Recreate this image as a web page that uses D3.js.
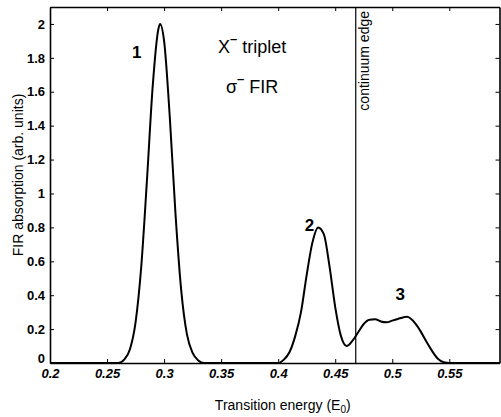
<!DOCTYPE html>
<html>
<head>
<meta charset="utf-8">
<script src="https://cdn.jsdelivr.net/npm/d3@7"></script>
<style>
  body { margin: 0; background: #fff; }
  svg { display: block; font-family: "Liberation Sans", Arial, sans-serif; }
</style>
</head>
<body>
<div id="chart"></div>
<script>
// values
const energy = [0.20, 0.26, 0.265, 0.27, 0.275, 0.28, 0.285, 0.29, 0.295, 0.2965,
    0.30, 0.305, 0.31, 0.315, 0.32, 0.325, 0.33, 0.335, 0.40, 0.405,
    0.41, 0.415, 0.42, 0.425, 0.43, 0.435, 0.44, 0.445, 0.45, 0.455,
    0.46, 0.465, 0.47, 0.475, 0.48, 0.485, 0.49, 0.495, 0.50, 0.505,
    0.51, 0.513, 0.52, 0.525, 0.53, 0.535, 0.54, 0.545, 0.55, 0.594];
const absorption = [0, 0, 0.02, 0.08, 0.24, 0.57, 1.08, 1.63, 1.97, 2.0,
    1.9, 1.45, 0.88, 0.43, 0.17, 0.06, 0.015, 0, 0, 0.02,
    0.065, 0.16, 0.30, 0.52, 0.71, 0.80, 0.76, 0.57, 0.33, 0.16,
    0.10, 0.13, 0.18, 0.23, 0.255, 0.258, 0.245, 0.24, 0.25, 0.26,
    0.27, 0.273, 0.235, 0.185, 0.125, 0.07, 0.025, 0.005, 0, 0];
const xTicks = [0.2, 0.25, 0.3, 0.35, 0.4, 0.45, 0.5, 0.55];
const yTicks = [0, 0.2, 0.4, 0.6, 0.8, 1, 1.2, 1.4, 1.6, 1.8, 2];
const continuumEdge = 0.468;
const peakNames = ['1', '2', '3'];
const peakPos = [[0.276, 1.80], [0.4275, 0.78], [0.507, 0.37]];

const [width, height] = [501, 417];
const plot = { left: 50, right: 499.5, top: 7, bottom: 363 };

const x = d3.scaleLinear().domain([0.2, 0.594]).range([plot.left, plot.right]);
const y = d3.scaleLinear().domain([0, 2.1]).range([plot.bottom, plot.top]);

const svg = d3.select('#chart')
    .append('svg')
    .attr('width', width)
    .attr('height', height);

// clip for the curve
svg.append('clipPath').attr('id', 'clip')
    .append('rect')
    .attr('x', plot.left).attr('y', plot.top)
    .attr('width', plot.right - plot.left).attr('height', plot.bottom - plot.top);

// axes with inward ticks on all four sides
const fmtX = (d) => String(+d.toFixed(2));
const fmtY = (d) => String(+d.toFixed(1));

const gx = svg.append('g')
    .attr('transform', `translate(0 ${plot.bottom})`)
    .call(d3.axisBottom(x).tickValues(xTicks).tickFormat(fmtX)
        .tickSizeInner(-4).tickSizeOuter(0).tickPadding(6));
gx.selectAll('text')
    .style('font-size', '13px')
    .style('font-weight', 'bold')
    .style('font-style', 'italic');

const gy = svg.append('g')
    .attr('transform', `translate(${plot.left} 0)`)
    .call(d3.axisLeft(y).tickValues(yTicks).tickFormat(fmtY)
        .tickSizeInner(-4).tickSizeOuter(0).tickPadding(5));
gy.selectAll('text')
    .style('font-size', '13px')
    .style('font-weight', 'bold');
// the zero label sits a little higher, clear of the x labels
gy.selectAll('.tick').filter((d) => d === 0).select('text').attr('dy', '-0.05em');

svg.append('g')
    .attr('transform', `translate(0 ${plot.top})`)
    .call(d3.axisTop(x).tickValues(xTicks).tickFormat('')
        .tickSizeInner(-4).tickSizeOuter(0));

svg.append('g')
    .attr('transform', `translate(${plot.right} 0)`)
    .call(d3.axisRight(y).tickValues(yTicks).tickFormat('')
        .tickSizeInner(-4).tickSizeOuter(0));

svg.selectAll('.domain').attr('stroke', '#000').attr('stroke-width', 1.6);
svg.selectAll('.tick line').attr('stroke', '#000').attr('stroke-width', 1);

// continuum edge
svg.append('line')
    .attr('x1', x(continuumEdge)).attr('x2', x(continuumEdge))
    .attr('y1', plot.top).attr('y2', plot.bottom)
    .attr('stroke', '#000')
    .attr('stroke-width', 1.2);

svg.append('text')
    .attr('transform', `translate(${x(continuumEdge) + 13} 11) rotate(-90)`)
    .attr('text-anchor', 'end')
    .style('font-size', '14px')
    .text('continuum edge');

// spectrum
const line = d3.line()
    .x((d, i) => x(energy[i]))
    .y((d) => y(d))
    .curve(d3.curveMonotoneX);

svg.append('path')
    .datum(absorption)
    .attr('clip-path', 'url(#clip)')
    .attr('d', line)
    .attr('fill', 'none')
    .attr('stroke', '#000')
    .attr('stroke-width', 2);

// peak numbers
svg.selectAll('.peak')
    .data(peakNames)
    .join('text')
    .attr('class', 'peak')
    .attr('x', (d, i) => x(peakPos[i][0]))
    .attr('y', (d, i) => y(peakPos[i][1]))
    .attr('text-anchor', 'middle')
    .style('font-size', '17px')
    .style('font-weight', 'bold')
    .text((d) => d);

// titles inside the plot
const t1 = svg.append('text')
    .attr('x', 218).attr('y', 53)
    .style('font-size', '18px');
t1.append('tspan').text('X');
t1.append('tspan').attr('dy', -10).style('font-size', '13px').style('font-weight', 'bold').text('\u2013');
t1.append('tspan').attr('dy', 10).text(' triplet');

const t2 = svg.append('text')
    .attr('x', 226).attr('y', 93)
    .style('font-size', '18px');
t2.append('tspan').text('\u03c3');
t2.append('tspan').attr('dy', -10).style('font-size', '13px').style('font-weight', 'bold').text('\u2013');
t2.append('tspan').attr('dy', 10).text(' FIR');

// axis labels
svg.append('text')
    .attr('x', (plot.left + plot.right) / 2 + 8)
    .attr('y', 410)
    .attr('text-anchor', 'middle')
    .style('font-size', '14px')
    .html('Transition energy (E<tspan dy="3" font-size="10px">0</tspan><tspan dy="-3">)</tspan>');

svg.append('text')
    .attr('transform', `translate(23 ${(plot.top + plot.bottom) / 2 - 10}) rotate(-90)`)
    .attr('text-anchor', 'middle')
    .style('font-size', '14px')
    .text('FIR absorption (arb. units)');
</script>
</body>
</html>
